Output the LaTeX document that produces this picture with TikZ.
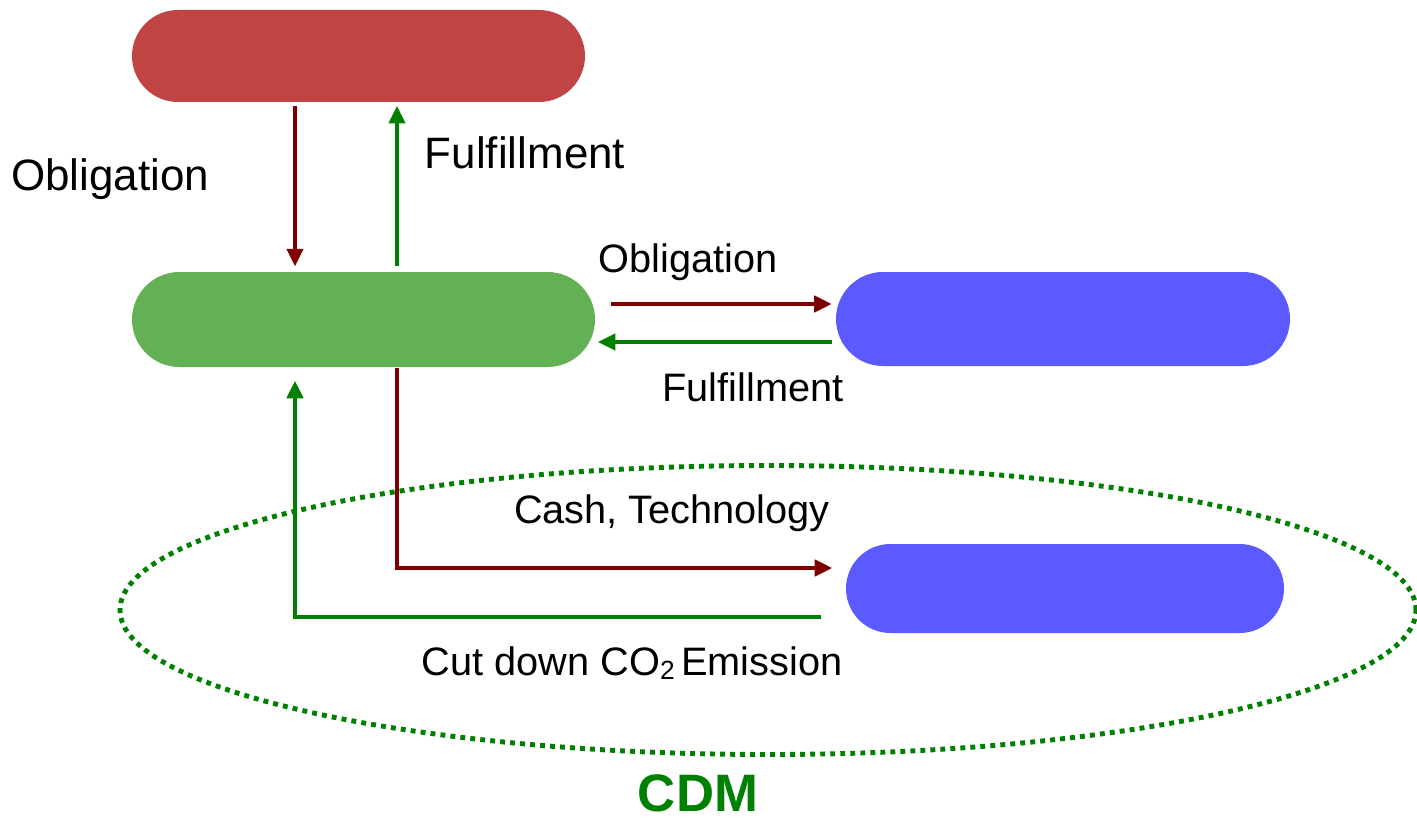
\documentclass[tikz,border=0pt]{standalone}
\usepackage{fontspec}
\setmainfont{Liberation Sans}
\usetikzlibrary{arrows.meta,shapes.geometric}
\definecolor{pillred}{RGB}{192,68,68}
\definecolor{pillgreen}{RGB}{100,176,84}
\definecolor{pillblue}{RGB}{90,90,255}
\definecolor{darkred}{RGB}{128,0,0}
\definecolor{darkgreen}{RGB}{0,128,0}
\begin{document}
\begin{tikzpicture}[
obl/.style={darkred, line width=1.1pt, -{Triangle[length=5pt,width=4.6pt]}},
ful/.style={darkgreen, line width=1.1pt, -{Triangle[length=5pt,width=4.6pt]}},
lbl/.style={font=\fontsize{12.5}{14}\selectfont, inner sep=0pt},
lbls/.style={font=\fontsize{11.3}{13}\selectfont, inner sep=0pt}]
\useasboundingbox (0,0) rectangle (14.17,8.19);
\node[fill=pillred, rounded corners=0.46cm, minimum width=4.53cm, minimum height=0.92cm, inner sep=0pt] (gov) at (3.585,7.63){};
\node[fill=pillgreen, rounded corners=0.475cm, minimum width=4.63cm, minimum height=0.95cm, inner sep=0pt] (firm) at (3.635,4.995){};
\node[fill=pillblue, rounded corners=0.47cm, minimum width=4.54cm, minimum height=0.94cm, inner sep=0pt] (buyer) at (10.63,5.00){};
\node[fill=pillblue, rounded corners=0.445cm, minimum width=4.38cm, minimum height=0.89cm, inner sep=0pt] (host) at (10.65,2.305){};
\node[draw=darkgreen, ellipse, line width=1.4pt, dash pattern=on 1.4pt off 1.45pt, minimum width=12.96cm, minimum height=2.89cm, inner sep=0pt] (cdm) at (7.68,2.09){};
\coordinate (a) at (2.95,0);
\coordinate (b) at (3.97,0);
\coordinate (c) at (0,5.15);
\coordinate (d) at (0,4.77);
\coordinate (e) at (0,2.51);
\coordinate (f) at (0,2.02);
\coordinate (bend1) at (3.97,2.51);
\coordinate (bend2) at (2.95,2.02);
\draw[obl, shorten <=0.9pt, shorten >=1.4pt] (a |- gov.south) -- (a |- firm.north);
\draw[ful, shorten <=1.4pt, shorten >=0.9pt] (b |- firm.north) -- (b |- gov.south);
\draw[obl, shorten <=4.3pt, shorten >=1pt] (firm.east |- c) -- (buyer.west |- c);
\draw[ful, shorten <=1pt, shorten >=0.6pt] (buyer.west |- d) -- (firm.east |- d);
\draw[obl, shorten >=3.7pt] (b |- firm.south) -- (bend1) -- (host.west |- e);
\draw[ful, shorten <=6.8pt, shorten >=3.7pt] (host.west |- f) -- (bend2) -- (a |- firm.south);
\node[lbl] (l1) at (1.10,6.40){Obligation};
\node[lbl] (l2) at (5.25,6.66){Fulfillment};
\node[lbls] (l3) at (6.88,5.57){Obligation};
\node[lbls] (l4) at (7.53,4.32){Fulfillment};
\node[lbls] (l5) at (6.72,3.06){Cash, Technology};
\node[lbls] (l6) at (6.32,1.56){Cut down CO{\fontsize{7.5}{9}\selectfont\raisebox{-0.15em}{2}}\,Emission};
\node[font=\fontsize{15}{18}\selectfont\bfseries, text=darkgreen, inner sep=0pt] (l7) at (6.98,0.26){CDM};
\end{tikzpicture}
\end{document}
